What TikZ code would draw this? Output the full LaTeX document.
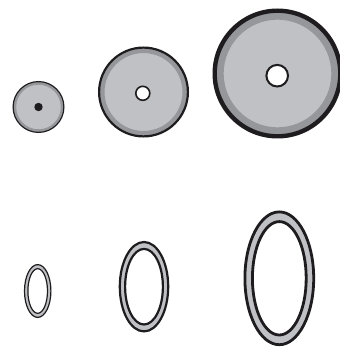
\documentclass[tikz,border=0pt]{standalone}
\usepackage{tikz}
\definecolor{discgray}{RGB}{192,193,197}
\definecolor{rimgray}{RGB}{150,151,155}
\definecolor{inkblk}{RGB}{30,28,30}
\tikzset{
  % flat washers (top row)
  disc/.style ={fill=discgray, draw=inkblk},
  rim/.style  ={draw=rimgray},
  hole/.style ={fill=white, draw=inkblk},
  % o-rings (bottom row)
  oring/.style={fill=discgray, draw=inkblk, even odd rule},
}

\begin{document}
\begin{tikzpicture}[x=1pt, y=-1pt]
  \useasboundingbox (0,0) rectangle (339,347);
  % centres
  \coordinate (wS) at (38.5,107);
  \coordinate (wM) at (143.5,92);
  \coordinate (wL) at (277.5,73.5);
  \coordinate (hM) at (142.8,93.3);
  \coordinate (hL) at (277.2,75.7);
  \coordinate (oS) at (37.7,291);
  \coordinate (oM) at (144,286.7);
  \coordinate (oL) at (279.3,278.3);

  % small washer
  \fill[discgray] (wS) circle[radius=25.4pt];
  \draw[rim, line width=2.6pt] (wS) circle[radius=23.6pt];
  \draw[inkblk, line width=1.2pt] (wS) circle[radius=25.4pt];
  \fill[inkblk] (wS) circle[radius=4.2pt];

  % medium washer
  \fill[discgray] (wM) circle[radius=44.4pt];
  \draw[rim, line width=4.5pt] (wM) circle[radius=41.2pt];
  \draw[inkblk, line width=2.2pt] (wM) circle[radius=44.4pt];
  \draw[hole, line width=1.6pt] (hM) circle[radius=7pt];

  % large washer
  \fill[discgray] (wL) circle[radius=62.8pt];
  \draw[rim, line width=7pt] (wL) circle[radius=57.3pt];
  \draw[inkblk, line width=4.4pt] (wL) circle[radius=62.8pt];
  \draw[hole, line width=2pt] (hL) circle[radius=10.8pt];

  % o-rings
  \draw[oring, line width=1.2pt]
    (oS) ellipse[x radius=13.2pt, y radius=26.4pt]
    (oS) ellipse[x radius=9.8pt, y radius=22.3pt];
  \draw[oring, line width=2.2pt]
    (oM) ellipse[x radius=24.2pt, y radius=44.7pt]
    (oM) ellipse[x radius=18.9pt, y radius=37.8pt];
  \draw[oring, line width=2.8pt]
    (oL) ellipse[x radius=34.4pt, y radius=66.4pt]
    (oL) ellipse[x radius=26.9pt, y radius=56.7pt];
\end{tikzpicture}
\end{document}
